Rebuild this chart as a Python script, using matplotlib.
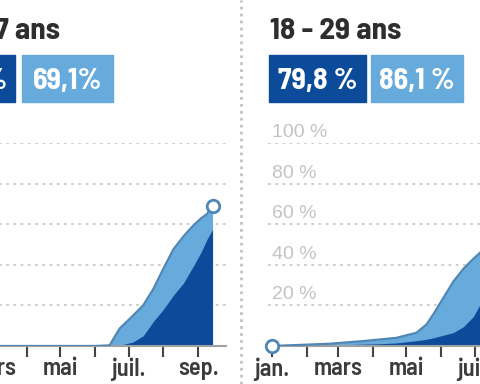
import matplotlib
matplotlib.use("Agg")
import matplotlib.pyplot as plt
from matplotlib.lines import Line2D
from matplotlib.patches import Rectangle
import pandas as pd

# 12 - 17 ans (left panel, only partly visible)
dates_1217 = ["2021-01-01", "2021-06-01", "2021-06-14", "2021-06-23", "2021-07-05",
              "2021-07-14", "2021-07-23", "2021-08-01", "2021-08-10", "2021-08-19",
              "2021-08-28", "2021-09-04", "2021-09-09", "2021-09-14"]
first_1217 = [0, 0, 0.3, 8.6, 15, 20, 28, 38, 47.6, 54, 59.5, 63, 65, 69.1]
full_1217 = [0, 0, 0, 0.3, 2, 5, 12, 18, 25, 31, 39.5, 46.5, 52.5, 57.4]

# 18 - 29 ans (right panel, cut at the edge)
dates_1829 = ["2021-01-01", "2021-02-21", "2021-03-23", "2021-04-07", "2021-04-22",
              "2021-05-10", "2021-05-19", "2021-05-25", "2021-06-03", "2021-06-12",
              "2021-06-21", "2021-06-30", "2021-07-06", "2021-07-20", "2021-08-05",
              "2021-08-20", "2021-09-01", "2021-09-14"]
first_1829 = [0, 1.1, 2.4, 3.2, 4, 6.5, 10.6, 15.5, 23.6, 31.7, 38, 43, 46, 57, 70, 78, 83, 86.1]
full_1829 = [0, 0.5, 0.9, 1.1, 1.5, 2.6, 3.3, 4.0, 5.3, 6.6, 9.5, 14.6, 20.7, 33, 50, 65, 73, 79.8]

month_starts = pd.date_range("2021-01-01", "2021-09-01", freq="MS")
month_labels = ["jan.", "", "mars", "", "mai", "", "juil.", "", "sep."]
y_levels = [20, 40, 60, 80, 100]

DARK = "#0c4a9a"
LIGHT = "#67abdd"
EDGE = "#4f86b4"

COND = ["Barlow Semi Condensed", "Liberation Sans"]
REG = ["Liberation Sans", "DejaVu Sans"]

W, H = 480, 384
PPD = 272 / 243  # pixels per day
x0, x1 = pd.Timestamp("2020-12-28"), pd.Timestamp("2021-09-26")

fig = plt.figure(figsize=(4.8, 3.84), dpi=100)


def fx(px):
    return px / W


def fy(py):
    return 1 - py / H


def panel(jan_px, dates, first, full, mark_end, ylabels):
    left = jan_px - 4 * PPD
    width = (x1 - x0).days * PPD
    ax = fig.add_axes([fx(left), fy(346), width / W, (346 - 143) / H])
    ax.set_xlim(x0, x1)
    ax.set_ylim(0, 100)
    d = pd.to_datetime(dates)
    for v in y_levels:
        ax.axhline(v, color="#c9c9c9", lw=1.3, ls=(0, (1.5, 2.5)), zorder=0)
        if ylabels:
            ax.annotate(f"{v} %", xy=(pd.Timestamp("2021-01-01"), v), xytext=(0, 6),
                        textcoords="offset pixels", va="baseline", ha="left",
                        color="#c3c3c3", fontsize=14, family=REG)
    ax.fill_between(d, first, color=LIGHT, lw=0, zorder=1)
    ax.fill_between(d, full, color=DARK, lw=0, zorder=2)
    ax.plot(d, first, color=EDGE, lw=1.6, zorder=3)
    i = -1 if mark_end else 0
    ax.plot(d[i], first[i], "o", ms=9, mfc="white", mec=EDGE, mew=2, zorder=5, clip_on=False)
    for s in ["left", "right", "top"]:
        ax.spines[s].set_visible(False)
    ax.spines["bottom"].set_color("#a0a0a0")
    ax.spines["bottom"].set_linewidth(1.5)
    ax.set_yticks([])
    ax.set_xticks(month_starts)
    ax.set_xticklabels(month_labels, family=COND, fontweight="semibold", fontsize=17.5, color="#3c3c3c")
    ax.tick_params(axis="x", length=8, width=1.5, color="#444444", pad=0)
    return ax


panel(-74, dates_1217, first_1217, full_1217, True, False)
panel(272, dates_1829, first_1829, full_1829, False, True)

# titles
fig.text(fx(60), fy(39), "12 - 17 ans", ha="right", va="baseline", family=COND,
         fontweight="bold", fontsize=22.5, color="#2e2e2e")
fig.text(fx(270), fy(39), "18 - 29 ans", ha="left", va="baseline", family=COND,
         fontweight="bold", fontsize=22.5, color="#2e2e2e")

# value boxes
boxes = [(-82, 15, DARK, "57,4 %"), (22, 113, LIGHT, "69,1%"),
         (269, 366, DARK, "79,8 %"), (371, 463, LIGHT, "86,1 %")]
for a, b, c, t in boxes:
    fig.add_artist(Rectangle((fx(a), fy(102)), (b - a) / W, 47 / H, color=c,
                             transform=fig.transFigure))
    fig.text(fx((a + b) / 2), fy(89), t, ha="center", va="baseline", family=COND,
             fontweight="bold", fontsize=21.5, color="white")

# dotted separator between panels
fig.add_artist(Line2D([fx(241), fx(241)], [0, 1], color="#c2c2c2", lw=2,
                      ls=(0, (1, 1.5)), transform=fig.transFigure))

fig.savefig("out.png", dpi=100)
